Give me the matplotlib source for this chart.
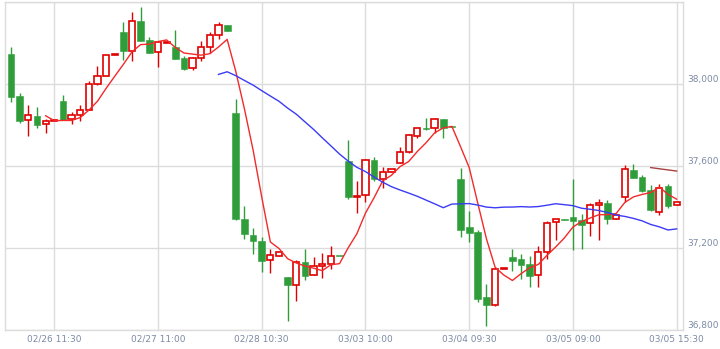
import numpy as np
import pandas as pd
import matplotlib
matplotlib.use('Agg')
import matplotlib.pyplot as plt

# hourly candles
opens = [38144, 37940, 37821, 37842, 37802, 37816, 37915, 37826, 37846, 37870,
         37997, 38035, 38139, 38251, 38157, 38305, 38212, 38152, 38197, 38178,
         38125, 38074, 38123, 38177, 38235, 38285, 37857, 37341, 37263, 37233,
         37139, 37160, 37058, 37018, 37130, 37066, 37113, 37121, 37160, 37623,
         37446, 37456, 37628, 37534, 37568, 37613, 37665, 37743, 37782, 37784,
         37826, 37789, 37535, 37302, 37276, 36961, 36922, 37097, 37156, 37146,
         37121, 37066, 37180, 37326, 37339, 37350, 37336, 37320, 37407, 37418,
         37339, 37446, 37579, 37545, 37480, 37373, 37501, 37407]
highs = [38177, 37953, 37894, 37885, 37828, 37820, 37944, 37862, 37894, 38011,
         38084, 38138, 38141, 38299, 38347, 38372, 38227, 38203, 38199, 38261,
         38134, 38131, 38206, 38250, 38299, 38285, 37926, 37402, 37295, 37251,
         37196, 37181, 37058, 37141, 37193, 37156, 37173, 37211, 37160, 37724,
         37524, 37633, 37643, 37592, 37583, 37690, 37755, 37782, 37831, 37832,
         37826, 37789, 37587, 37378, 37287, 37023, 37108, 37099, 37194, 37172,
         37160, 37211, 37331, 37339, 37339, 37537, 37363, 37417, 37439, 37432,
         37359, 37604, 37608, 37556, 37505, 37511, 37510, 37423]
lows = [37909, 37810, 37743, 37785, 37758, 37816, 37823, 37802, 37816, 37870,
        37992, 38035, 38139, 38115, 38112, 38209, 38148, 38082, 38197, 38121,
        38065, 38065, 38109, 38148, 38219, 38258, 37335, 37243, 37169, 37084,
        37076, 37160, 36842, 36941, 37042, 37066, 37052, 37097, 37158, 37437,
        37371, 37423, 37524, 37490, 37568, 37613, 37661, 37735, 37774, 37761,
        37734, 37787, 37253, 37229, 36936, 36818, 36915, 37097, 37089, 37048,
        37009, 37009, 37146, 37238, 37337, 37190, 37193, 37259, 37238, 37315,
        37339, 37422, 37542, 37474, 37378, 37362, 37393, 37407]
closes = [37936, 37819, 37846, 37800, 37816, 37818, 37823, 37846, 37870, 37997,
          38035, 38138, 38141, 38160, 38303, 38209, 38150, 38203, 38199, 38121,
          38073, 38123, 38177, 38235, 38284, 38258, 37341, 37266, 37235, 37138,
          37164, 37181, 37018, 37130, 37064, 37113, 37121, 37160, 37158, 37449,
          37453, 37626, 37537, 37568, 37583, 37665, 37750, 37782, 37778, 37826,
          37785, 37787, 37288, 37271, 36952, 36920, 37097, 37099, 37138, 37118,
          37064, 37178, 37321, 37339, 37337, 37332, 37313, 37407, 37418, 37339,
          37359, 37583, 37542, 37478, 37386, 37493, 37405, 37423]

tick_idx = [5, 17, 29, 41, 53, 65, 77]
tick_labels = ['02/26 11:30', '02/27 11:00', '02/28 10:30', '03/03 10:00',
               '03/04 09:30', '03/05 09:00', '03/05 15:30']

df = pd.DataFrame({'open': opens, 'high': highs, 'low': lows, 'close': closes})
df['ma5'] = df['close'].rolling(5).mean()
df['ma25'] = df['close'].rolling(25).mean()
df['ma75'] = df['close'].rolling(75).mean()
x = np.arange(len(df))

up_col = '#e00000'
down_col = '#2e9d3a'
grid_col = '#dcdcdc'

fig = plt.figure(figsize=(7.2, 3.49), dpi=100)
ax = fig.add_axes([5 / 720, 19 / 349, 678.3 / 720, 328.5 / 349])

up = df['close'] >= df['open']
# wicks
ax.vlines(x[up], df['low'][up], df['high'][up], color=up_col, lw=1.0, zorder=3)
ax.vlines(x[~up], df['low'][~up], df['high'][~up], color=down_col, lw=1.0, zorder=3)

# bodies
body_lo = np.minimum(df['open'], df['close'])
body_h = np.maximum(np.abs(df['close'] - df['open']), 5)
ax.bar(x[up], body_h[up], bottom=body_lo[up], width=0.72, facecolor='white',
       edgecolor=up_col, linewidth=1.2, zorder=4)
ax.bar(x[~up], body_h[~up], bottom=body_lo[~up], width=0.78, facecolor=down_col,
       edgecolor=down_col, linewidth=0.4, zorder=4)

# moving averages
ax.plot(x, df['ma5'], color='#f22a2a', lw=1.0, zorder=5)
ax.plot(x, df['ma25'], color='#3b3bf5', lw=1.0, zorder=5)
ax.plot(x, df['ma75'], color='#a84040', lw=1.0, zorder=5)

ax.set_xlim(-0.7, 77.77)
ax.set_ylim(36800, 38400)

ax.set_xticks(tick_idx)
ax.set_xticklabels(tick_labels)
ax.set_yticks([36800, 37200, 37600, 38000, 38400])
ax.set_yticklabels(['36,800', '37,200', '37,600', '38,000', ''])
ax.yaxis.tick_right()
ax.tick_params(axis='both', length=0, labelsize=6.5, colors='#7d8aa5')
ax.tick_params(axis='x', pad=3)
ax.tick_params(axis='y', pad=3)
for t in ax.get_yticklabels():
    t.set_va('bottom')

ax.grid(True, color=grid_col, lw=1.0)
ax.set_axisbelow(True)
for s in ax.spines.values():
    s.set_color(grid_col)
    s.set_linewidth(1.0)

fig.savefig('out.png', dpi=100)
